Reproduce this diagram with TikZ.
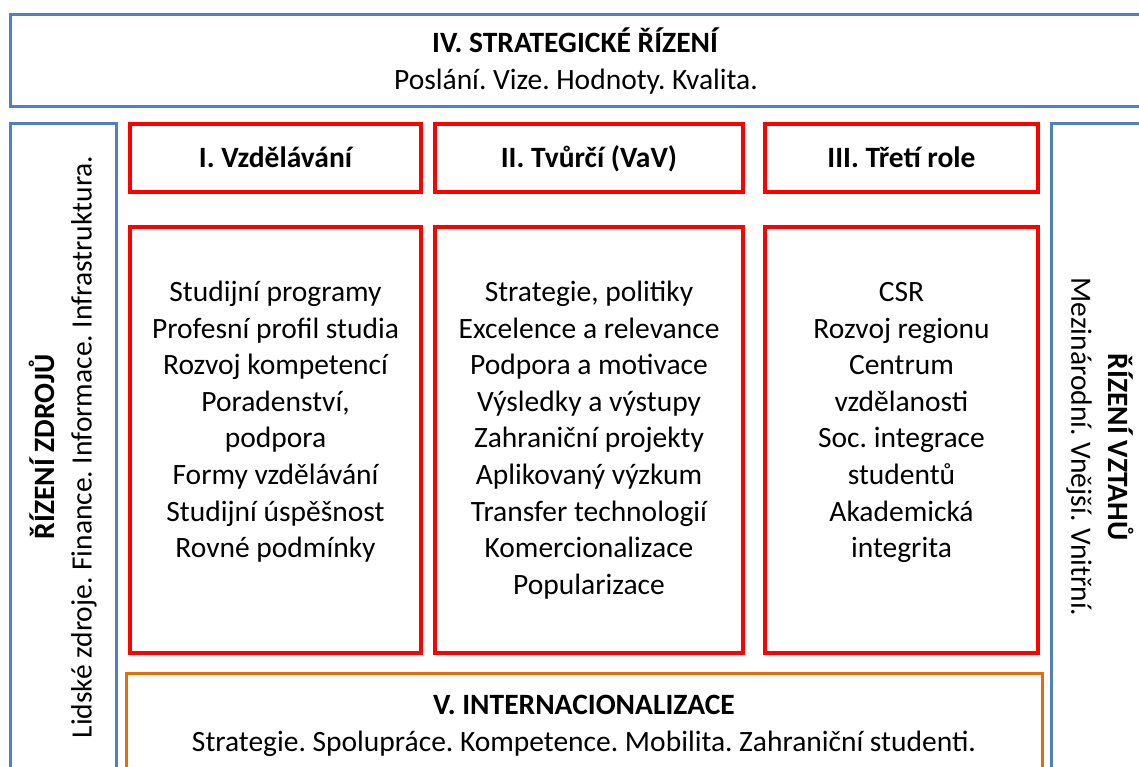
\documentclass[tikz,border=0pt]{standalone}
\usepackage{fontspec}
\setmainfont{Carlito}
\frenchspacing
\usetikzlibrary{positioning}
\definecolor{frameblue}{RGB}{79,129,189}
\definecolor{framered}{RGB}{255,0,0}
\definecolor{frameorange}{RGB}{228,108,10}
\tikzset{
	blueframe/.style={draw=frameblue, line width=3pt, align=center, inner sep=0pt, font=\fontsize{29.5}{37}\selectfont},
	redframe/.style={draw=framered, line width=3.5pt, align=center, inner sep=0pt, text height=24pt, text depth=5pt, font=\fontsize{29.5}{36.5}\selectfont\bfseries},
	orangeframe/.style={draw=frameorange, line width=3pt, align=center, inner sep=0pt, font=\fontsize{29.5}{36.5}\selectfont},
	listtext/.style={align=center, inner sep=0pt, font=\fontsize{29.5}{36.6}\selectfont},
}
\newcommand{\firstline}{\rule{0pt}{23pt}}
\begin{document}
\begin{tikzpicture}[x=1pt, y=-1pt]
	\clip (0,0) rectangle (1139,767);
	% frame around everything
	\node[blueframe, minimum width=1132, minimum height=92] (strat) at (576, 61) {\textbf{IV. STRATEGICKÉ ŘÍZENÍ}\\Poslání. Vize. Hodnoty. Kvalita.};
	\node[blueframe, rotate=90, minimum width=646, minimum height=106] (zdroje) at (63, 447) {\textbf{ŘÍZENÍ ZDROJŮ}\\Lidské zdroje. Finance. Informace. Infrastruktura.};
	\node[blueframe, rotate=-90, minimum width=646, minimum height=98] (vztahy) at (1100, 447) {\textbf{ŘÍZENÍ VZTAHŮ}\\Mezinárodní. Vnější. Vnitřní.};
	% three roles
	\node[redframe, minimum width=291, minimum height=68] (vzdel) at (275.5, 158) {I. Vzdělávání};
	\node[redframe, minimum width=308, minimum height=68] (tvurci) at (589, 158) {II. Tvůrčí (VaV)};
	\node[redframe, minimum width=273, minimum height=68] (treti) at (901.5, 158) {III. Třetí role};
	\node[redframe, minimum width=291, minimum height=426] (vzdelbox) at (275.5, 440) {};
	\node[redframe, minimum width=308, minimum height=426] (tvurcibox) at (589, 440) {};
	\node[redframe, minimum width=273, minimum height=426] (tretibox) at (901.5, 440) {};
	\node[listtext, below=53pt of vzdelbox.north] (vzdellist) {\firstline Studijní programy\\Profesní profil studia\\Rozvoj kompetencí\\Poradenství,\\podpora\\Formy vzdělávání\\Studijní úspěšnost\\Rovné podmínky};
	\node[listtext, below=53pt of tvurcibox.north] (tvurcilist) {\firstline Strategie, politiky\\Excelence a relevance\\Podpora a motivace\\Výsledky a výstupy\\Zahraniční projekty\\Aplikovaný výzkum\\Transfer technologií\\Komercionalizace\\Popularizace};
	\node[listtext, below=53pt of tretibox.north] (tretilist) {\firstline CSR\\Rozvoj regionu\\Centrum\\vzdělanosti\\Soc. integrace\\studentů\\Akademická\\integrita};
	% bottom
	\node[orangeframe, minimum width=916, minimum height=106] (inter) at (584, 726) {\textbf{V. INTERNACIONALIZACE}\\Strategie. Spolupráce. Kompetence. Mobilita. Zahraniční studenti.};
\end{tikzpicture}
\end{document}
